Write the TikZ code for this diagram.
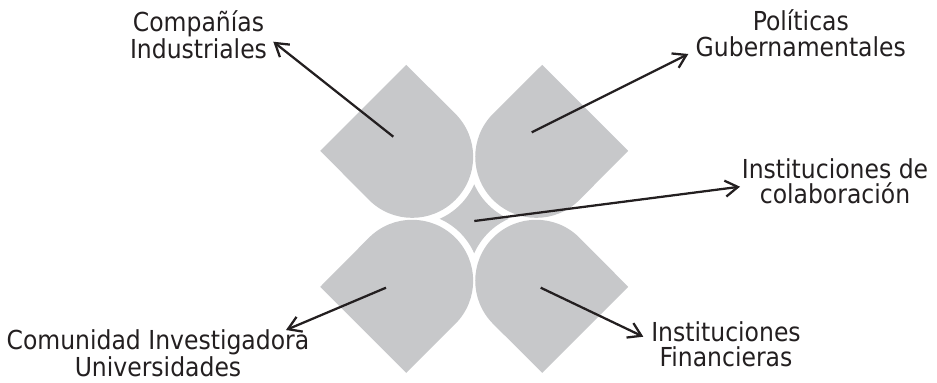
\documentclass[tikz,border=0pt]{standalone}
\usepackage{fontspec}
\setmainfont{DejaVu Sans Condensed}
\usetikzlibrary{arrows.meta}
\definecolor{petal}{RGB}{199,200,202}
\definecolor{ink}{RGB}{35,31,32}
\begin{document}
\begin{tikzpicture}[x=0.75pt,y=-0.75pt,
  lbl/.style={align=center,anchor=base,inner sep=0pt,text=ink,
    font=\fontsize{19.6}{18.9}\selectfont},
  pointer/.style={draw=ink,line width=1.7pt,
    -{Straight Barb[length=9.5pt,width=12pt,line width=1.7pt]}},
  leaf/.style={fill=petal,draw=none}]
\useasboundingbox (0,0) rectangle (937,382);

% four petals around the centre, drawn with y pointing up
\begin{scope}[shift={(474.2,218.8)},yscale=-1]
  \foreach \sx/\sy in {1/1,-1/1,1/-1,-1/-1}{
    \begin{scope}[xscale=\sx,yscale=\sy]
      \path[leaf] (-154,68) -- (-68,154) -- (-18.9,105.1)
        arc[start angle=45,end angle=-135,radius=61] -- cycle;
    \end{scope}
  }
  % small concave star in the middle
  \path[leaf] (0,34.5)
    arc[start angle=-23.92,end angle=-66.08,radius=67.83]
    arc[start angle=66.08,end angle=23.92,radius=67.83]
    arc[start angle=156.08,end angle=113.92,radius=67.83]
    arc[start angle=246.08,end angle=203.92,radius=67.83] -- cycle;
\end{scope}

% labels (anchored on the baseline of their last line)
\node[lbl] (ci) at (198.5,58.3) {Compañías\\Industriales};
\node[lbl] (pg) at (800.8,56) {Políticas\\Gubernamentales};
\node[lbl] (ic) at (835,203.3) {Instituciones de\\colaboración};
\node[lbl] (cu) at (158,376.5) {Comunidad Investigadora\\Universidades};
\node[lbl] (fi) at (726,366.7) {Instituciones\\Financieras};

% arrow ends
\coordinate (s1) at (393.3,136.7); \coordinate (t1) at (273.3,41.7);
\coordinate (s2) at (531.7,132.3); \coordinate (t2) at (688.3,54);
\coordinate (s3) at (474.3,221);   \coordinate (t3) at (740,186.7);
\coordinate (s4) at (386,287.7);   \coordinate (t4) at (286,330);
\coordinate (s5) at (540.7,287.7); \coordinate (t5) at (643.3,336.7);

\draw[pointer] (s1) -- (t1);
\draw[pointer] (s2) -- (t2);
\draw[pointer] (s3) -- (t3);
\draw[pointer] (s4) -- (t4);
\draw[pointer] (s5) -- (t5);
\end{tikzpicture}
\end{document}
